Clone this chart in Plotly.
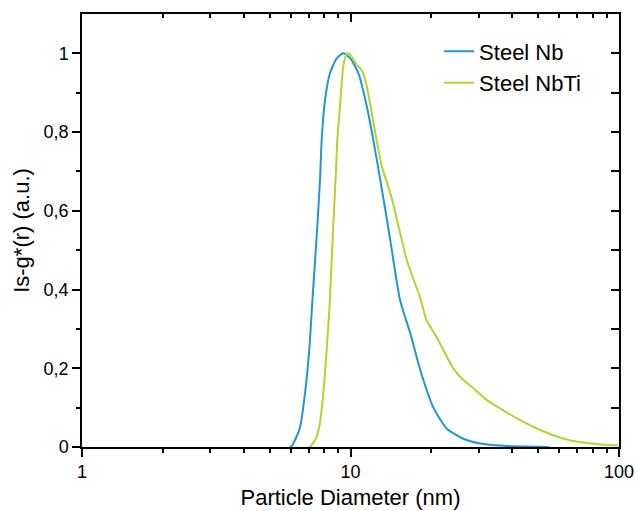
import plotly.graph_objects as go

# ---- data ----
nb_x = [5.9, 6.0, 6.21, 6.49, 6.77, 7.02, 7.21, 7.48, 7.70, 7.81, 8.04, 8.39, 8.9, 9.4,
        9.96, 10.7, 11.5, 12.16, 12.9, 14.0, 15.3, 16.7, 18.2, 20.3, 22.8, 26.3, 30.4,
        37.1, 45.3, 55.0]
nb_y = [0.0, 0.0, 0.017, 0.051, 0.136, 0.246, 0.37, 0.534, 0.679, 0.78, 0.882, 0.95, 0.988, 1.0,
        0.988, 0.95, 0.865, 0.78, 0.68, 0.534, 0.373, 0.289, 0.195, 0.102, 0.047, 0.021, 0.009,
        0.003, 0.001, 0.0]

nbti_x = [7.0, 7.06, 7.38, 7.65, 7.92, 8.15, 8.34, 8.59, 8.83, 8.93, 9.14, 9.40, 9.68, 9.96,
          10.55, 11.1, 11.5, 12.0, 12.5, 13.1, 14.2, 14.9, 16.2, 18.2, 18.7, 19.2, 20.9, 22.5,
          24.1, 26.3, 28.7, 32.2, 37.1, 42.8, 49.4, 56.9, 65.7, 75.8, 87.4, 99.0]
nbti_y = [0.0, 0.0, 0.017, 0.051, 0.136, 0.246, 0.348, 0.534, 0.704, 0.78, 0.865, 0.967, 1.0, 0.997,
          0.971, 0.954, 0.916, 0.848, 0.78, 0.712, 0.636, 0.577, 0.475, 0.378, 0.348, 0.322, 0.28, 0.238,
          0.2, 0.17, 0.149, 0.119, 0.093, 0.068, 0.047, 0.03, 0.017, 0.010, 0.006, 0.004]

series_names = ["Steel Nb", "Steel NbTi"]

x_major = [1, 10, 100]
x_major_text = ["1", "10", "100"]
x_minor = [2, 3, 4, 5, 6, 7, 8, 9, 20, 30, 40, 50, 60, 70, 80, 90]
y_major = [0, 0.2, 0.4, 0.6, 0.8, 1.0]
y_major_text = ["0", "0,2", "0,4", "0,6", "0,8", "1"]
y_minor = [0.1, 0.3, 0.5, 0.7, 0.9]
y_right = [0, 0.1, 0.2, 0.3, 0.4, 0.5, 0.6, 0.7, 0.8, 0.9, 1.0]

x_title = "Particle Diameter (nm)"
y_title = "Is-g*(r) (a.u.)"

BLUE = "#1f96d6"
GREEN = "#b2d330"
FONT = "Arial, Liberation Sans, sans-serif"

fig = go.Figure()
fig.add_trace(go.Scatter(x=nb_x, y=nb_y, mode="lines", name=series_names[0],
                         line=dict(color=BLUE, width=2, shape="spline", smoothing=0.6)))
fig.add_trace(go.Scatter(x=nbti_x, y=nbti_y, mode="lines", name=series_names[1],
                         line=dict(color=GREEN, width=2, shape="spline", smoothing=0.6),
                         xaxis="x2", yaxis="y2"))

axis_common = dict(showgrid=False, zeroline=False, showline=True, linecolor="black",
                   linewidth=1.5, tickcolor="black", tickwidth=1.5, automargin=False)
xr = [0, 2]
yr = [0, 1.1]

fig.update_layout(
    width=635, height=511,
    margin=dict(l=82, r=16, t=14, b=64),
    paper_bgcolor="white", plot_bgcolor="white",
    font=dict(family=FONT, color="black", size=18),
    xaxis=dict(type="log", range=xr, tickmode="array", tickvals=x_major, ticktext=x_major_text,
               ticks="outside", ticklen=8,
               minor=dict(tickmode="array", tickvals=x_minor, ticks="outside", ticklen=4,
                          tickcolor="black", tickwidth=1.5, showgrid=False),
               title=dict(text=x_title, font=dict(size=22), standoff=8),
               tickfont=dict(size=18), **axis_common),
    xaxis2=dict(type="log", range=xr, overlaying="x", side="top", tickmode="array",
                tickvals=x_major, ticks="inside", ticklen=8, showticklabels=False,
                minor=dict(tickmode="array", tickvals=x_minor, ticks="inside", ticklen=4,
                           tickcolor="black", tickwidth=1.5, showgrid=False),
                **axis_common),
    yaxis=dict(range=yr, tickmode="array", tickvals=y_major, ticktext=y_major_text,
               ticks="outside", ticklen=8,
               minor=dict(tickmode="array", tickvals=y_minor, ticks="outside", ticklen=4,
                          tickcolor="black", tickwidth=1.5, showgrid=False),
               title=dict(text=y_title, font=dict(size=22), standoff=8),
               tickfont=dict(size=18), **axis_common),
    yaxis2=dict(range=yr, overlaying="y", side="right", tickmode="array", tickvals=y_right,
                ticks="inside", ticklen=8, showticklabels=False, **axis_common),
    legend=dict(x=0.665, y=0.962, xanchor="left", yanchor="top", bgcolor="rgba(0,0,0,0)",
                font=dict(size=22)),
    showlegend=True,
)

fig.write_html("out.html", config={"displayModeBar": False},
               post_script="document.body.style.margin='0';")
